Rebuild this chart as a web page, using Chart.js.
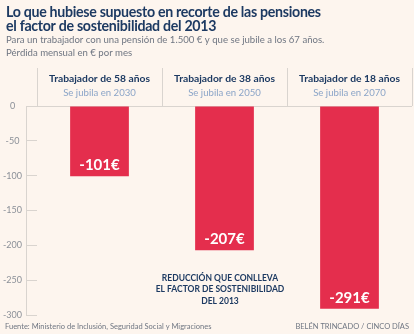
<!DOCTYPE html>
<html>
<head>
<meta charset="utf-8">
<script src="https://cdn.jsdelivr.net/npm/chart.js@4/dist/chart.umd.min.js"></script>
<style>
  html, body { margin: 0; padding: 0; background: #fdf5ee; }
  #wrap { width: 414px; height: 334px; position: relative; }
</style>
</head>
<body>
<div id="wrap"><canvas id="chart"></canvas></div>
<script>
const categorias = ['Trabajador de 58 años', 'Trabajador de 38 años', 'Trabajador de 18 años'];
const jubilacion = ['Se jubila en 2030', 'Se jubila en 2050', 'Se jubila en 2070'];
const recorte = [-101, -207, -291];
const ticksY = [0, -50, -100, -150, -200, -250, -300];

const titulo = ['Lo que hubiese supuesto en recorte de las pensiones', 'el factor de sostenibilidad del 2013'];
const subtitulo = ['Para un trabajador con una pensión de 1.500 € y que se jubile a los 67 años.', 'Pérdida mensual en € por mes'];
const nota = ['REDUCCIÓN QUE CONLLEVA', 'EL FACTOR DE SOSTENIBILIDAD', 'DEL 2013'];
const fuente = 'Fuente: Ministerio de Inclusión, Seguridad Social y Migraciones';
const firma = 'BELÉN TRINCADO / CINCO DÍAS';

const azul = '#1d3a62';
const gris = '#d9d4cf';

const textos = {
    id: 'textos',
    beforeDatasetsDraw(chart) {
        const ctx = chart.ctx;
        const x = chart.scales.x;
        const y = chart.scales.y;
        const y0 = y.getPixelForValue(0);
        const ejeX = y.right - y.options.grid.tickLength;
        ctx.save();
        ctx.strokeStyle = gris;
        ctx.lineWidth = 1;
        // eje vertical y linea del cero
        ctx.beginPath();
        ctx.moveTo(ejeX + 0.5, y0);
        ctx.lineTo(ejeX + 0.5, y.bottom);
        ctx.moveTo(ejeX, y0 + 0.5);
        ctx.lineTo(chart.chartArea.right, y0 + 0.5);
        // separadores de cabecera
        const ancho = x.getPixelForValue(1) - x.getPixelForValue(0);
        for (let i = 0; i <= categorias.length; i++) {
            const px = Math.round(x.getPixelForValue(0) - ancho / 2 + i * ancho) + 0.5;
            ctx.moveTo(px, 68);
            ctx.lineTo(px, y0);
        }
        ctx.stroke();
        ctx.restore();
    },
    afterDatasetsDraw(chart) {
        const ctx = chart.ctx;
        const x = chart.scales.x;
        ctx.save();

        ctx.textAlign = 'left';
        ctx.textBaseline = 'alphabetic';
        ctx.fillStyle = azul;
        ctx.font = 'bold 14.2px Lato';
        ctx.letterSpacing = '-0.3px';
        titulo.forEach((t, i) => ctx.fillText(t, 6, 17 + i * 14));
        ctx.letterSpacing = '0px';

        ctx.textBaseline = 'middle';
        ctx.fillStyle = '#6f7682';
        ctx.font = '9.6px Lato';
        subtitulo.forEach((t, i) => ctx.fillText(t, 6, 40 + i * 13));

        ctx.textAlign = 'center';
        categorias.forEach((c, i) => {
            const px = x.getPixelForValue(i);
            ctx.fillStyle = azul;
            ctx.font = 'bold 10.3px Lato';
            ctx.fillText(c, px, 79);
            ctx.fillStyle = '#8ba5c8';
            ctx.font = '9.6px Lato';
            ctx.fillText(jubilacion[i], px, 93);
        });

        // valores dentro de las barras
        const meta = chart.getDatasetMeta(0);
        ctx.fillStyle = '#ffffff';
        ctx.font = 'bold 15px Lato';
        meta.data.forEach((bar, i) => {
            ctx.fillText(recorte[i] + '€', bar.x, bar.y - 11);
        });

        ctx.fillStyle = azul;
        ctx.font = 'bold 8.5px Lato';
        nota.forEach((t, i) => ctx.fillText(t, 220, 278 + i * 11.5));

        ctx.fillStyle = '#6f7682';
        ctx.font = '7.5px Lato';
        ctx.textAlign = 'left';
        ctx.fillText(fuente, 5, 327);
        ctx.textAlign = 'right';
        ctx.fillText(firma, 409, 327);
        ctx.restore();
    }
};

new Chart(document.getElementById('chart'), {
    type: 'bar',
    data: {
        labels: categorias,
        datasets: [{
            data: recorte,
            backgroundColor: '#e42e4d',
            barPercentage: 0.47,
            categoryPercentage: 1
        }]
    },
    options: {
        responsive: true,
        maintainAspectRatio: false,
        animation: false,
        events: [],
        layout: { padding: { top: 106, bottom: 19, right: 2, left: 0 } },
        plugins: { legend: { display: false }, tooltip: { enabled: false } },
        scales: {
            x: { display: false },
            y: {
                min: -300,
                max: 0,
                afterFit(scale) { scale.width = 37; },
                afterBuildTicks(scale) { scale.ticks = ticksY.map(v => ({ value: v })); },
                border: { display: false },
                grid: { drawOnChartArea: false, drawTicks: true, tickLength: 11, color: gris },
                ticks: {
                    crossAlign: 'center',
                    padding: 4,
                    color: '#8b9098',
                    font: { family: 'Lato', size: 9 }
                }
            }
        }
    },
    plugins: [textos]
});
</script>
</body>
</html>
